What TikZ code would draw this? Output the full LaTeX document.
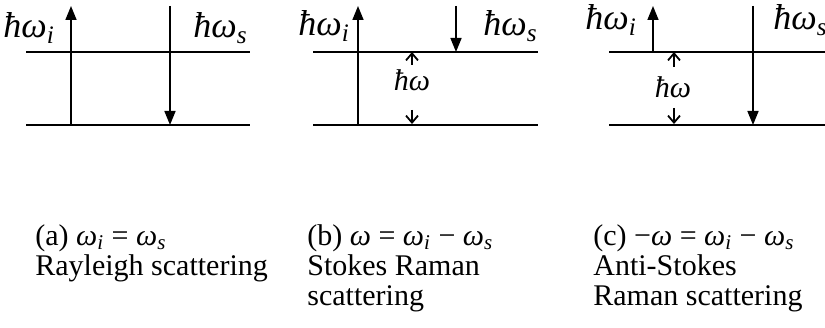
\documentclass[tikz,border=0pt]{standalone}
\usepackage{amsmath}
\usepackage{fontspec}
\setmainfont{Liberation Serif}
\usetikzlibrary{arrows.meta,positioning}
\newcommand{\om}{\textit{ω}}
\newcommand{\hw}{\textit{ħω}}
\tikzset{
  level/.style={line width=1.1pt, line cap=butt},
  photon/.style={-{Triangle[length=7pt,width=5.5pt]}, line width=0.8pt},
  phonon/.style={-{Straight Barb[length=3.5pt,width=6pt]}, line width=0.9pt},
  lbl/.style={inner sep=0pt, anchor=base west, font=\fontsize{18}{20}\selectfont},
  midlbl/.style={inner sep=0pt, anchor=base, font=\fontsize{15}{17}\selectfont},
  caption/.style={inner sep=0pt, anchor=base west, font=\fontsize{15}{15}\selectfont}
}

\begin{document}
\begin{tikzpicture}[x=0.5pt, y=0.5pt]
    \useasboundingbox (0,0) rectangle (825,327);

    % (a) Rayleigh
    \coordinate (aUL) at (26,275);  \coordinate (aUR) at (250,275);
    \coordinate (aLL) at (26,202);  \coordinate (aLR) at (250,202);
    \draw[level] (aUL) -- (aUR);
    \draw[level] (aLL) -- (aLR);
    \coordinate (aIn0) at (71,202);   \coordinate (aIn1) at (71,321);
    \coordinate (aOut0) at (170,321); \coordinate (aOut1) at (170,202);
    \draw[photon] (aIn0) -- (aIn1);
    \draw[photon] (aOut0) -- (aOut1);
    \node[lbl] (aWi) at (3,289) {\hw$_{\textit{i}}$};
    \node[lbl] (aWs) at (193,289) {\hw$_{\textit{s}}$};
    \node[caption] (aCap) at (35,82) {\vtop{\hbox{(a) \om$_{\textit{i}}$ = \om$_{\textit{s}}$}\hbox{Rayleigh scattering}}};

    % (b) Stokes
    \coordinate (bUL) at (313,275); \coordinate (bUR) at (538,275);
    \coordinate (bLL) at (313,202); \coordinate (bLR) at (538,202);
    \draw[level] (bUL) -- (bUR);
    \draw[level] (bLL) -- (bLR);
    \coordinate (bIn0) at (358,202);  \coordinate (bIn1) at (358,321);
    \coordinate (bOut0) at (456,321); \coordinate (bOut1) at (456,275);
    \draw[photon] (bIn0) -- (bIn1);
    \draw[photon] (bOut0) -- (bOut1);
    \node[midlbl] (bW) at (412,236) {\hw};
    \coordinate (bPu0) at (412,262); \coordinate (bPu1) at (412,275);
    \coordinate (bPd0) at (412,217); \coordinate (bPd1) at (412,203);
    \draw[phonon] (bPu0) -- (bPu1);
    \draw[phonon] (bPd0) -- (bPd1);
    \node[lbl] (bWi) at (298,291) {\hw$_{\textit{i}}$};
    \node[lbl] (bWs) at (483,291) {\hw$_{\textit{s}}$};
    \node[caption] (bCap) at (307,82) {\vtop{\hbox{(b) \om{} = \om$_{\textit{i}}$ − \om$_{\textit{s}}$}\hbox{Stokes Raman}\hbox{scattering}}};

    % (c) anti-Stokes
    \coordinate (cUL) at (609,275); \coordinate (cUR) at (825,275);
    \coordinate (cLL) at (609,202); \coordinate (cLR) at (825,202);
    \draw[level] (cUL) -- (cUR);
    \draw[level] (cLL) -- (cLR);
    \coordinate (cIn0) at (653,275);  \coordinate (cIn1) at (653,321);
    \coordinate (cOut0) at (753,321); \coordinate (cOut1) at (753,202);
    \draw[photon] (cIn0) -- (cIn1);
    \draw[photon] (cOut0) -- (cOut1);
    \node[midlbl] (cW) at (673,229) {\hw};
    \coordinate (cPu0) at (674,260); \coordinate (cPu1) at (674,275);
    \coordinate (cPd0) at (674,219); \coordinate (cPd1) at (674,203);
    \draw[phonon] (cPu0) -- (cPu1);
    \draw[phonon] (cPd0) -- (cPd1);
    \node[lbl] (cWi) at (585,297) {\hw$_{\textit{i}}$};
    \node[lbl] (cWs) at (773,297) {\hw$_{\textit{s}}$};
    \node[caption] (cCap) at (593,82) {\vtop{\hbox{(c) −\om{} = \om$_{\textit{i}}$ − \om$_{\textit{s}}$}\hbox{Anti-Stokes}\hbox{Raman scattering}}};
\end{tikzpicture}
\end{document}
